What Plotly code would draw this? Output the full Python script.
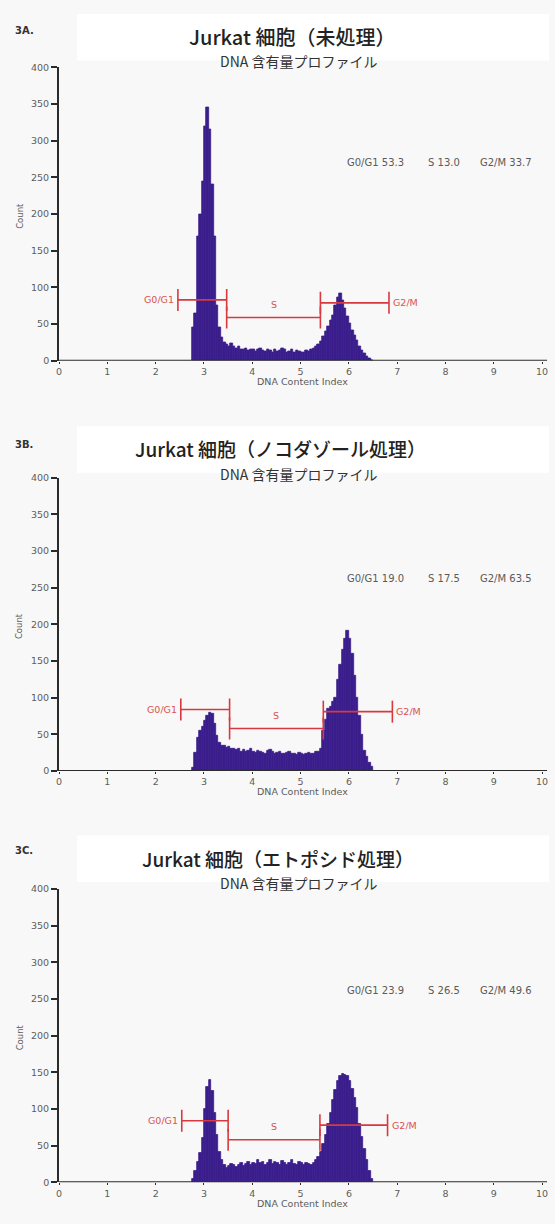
import plotly.graph_objects as go

W, H = 555, 1224

# ---------------- data ----------------
bin_start = 2.775      # centre of first histogram channel (DNA content index)
bin_width = 0.05

counts_a = [45, 65, 170, 200, 245, 320, 345, 315, 240, 170,
            75, 45, 32, 25, 22, 20, 23, 19, 17, 19,
            16, 15, 17, 14, 16, 15, 13, 15, 17, 14,
            13, 16, 14, 12, 15, 13, 14, 17, 15, 12,
            13, 15, 12, 14, 13, 11, 12, 14, 13, 15,
            17, 20, 22, 27, 33, 40, 47, 55, 62, 75,
            86, 92, 82, 72, 60, 51, 42, 34, 28, 20,
            14, 10, 6, 3, 1]

counts_b = [5, 25, 45, 55, 60, 68, 75, 80, 78, 65,
            48, 38, 34, 35, 32, 33, 30, 31, 29, 30,
            27, 29, 26, 28, 30, 26, 25, 28, 27, 25,
            24, 28, 29, 26, 24, 25, 27, 24, 23, 25,
            26, 23, 24, 22, 25, 23, 22, 24, 25, 23,
            24, 26, 27, 30, 55, 70, 85, 88, 95, 100,
            125, 145, 165, 180, 192, 180, 160, 130, 100, 75,
            50, 28, 20, 12, 6]

counts_c = [5, 15, 28, 40, 60, 100, 130, 140, 125, 95,
            65, 42, 30, 24, 20, 22, 25, 23, 21, 24,
            26, 22, 25, 28, 24, 27, 25, 30, 26, 28,
            24, 27, 31, 25, 28, 26, 24, 29, 26, 23,
            27, 31, 25, 24, 28, 26, 23, 27, 25, 24,
            27, 30, 35, 42, 52, 65, 80, 95, 112, 126,
            138, 145, 148, 147, 145, 138, 127, 115, 102, 80,
            62, 45, 30, 15, 5]

panel_labels = ["3A.", "3B.", "3C."]
titles = ["Jurkat 細胞（未処理）",
          "Jurkat 細胞（ノコダゾール処理）",
          "Jurkat 細胞（エトポシド処理）"]
subtitle = "DNA 含有量プロファイル"

stats_a = ["G0/G1 53.3", "S 13.0", "G2/M 33.7"]
stats_b = ["G0/G1 19.0", "S 17.5", "G2/M 63.5"]
stats_c = ["G0/G1 23.9", "S 26.5", "G2/M 49.6"]

gate_names = ["G0/G1", "S", "G2/M"]
# (start, end, level) per gate
gates_a = [(2.46, 3.47, 83), (3.47, 5.41, 59), (5.41, 6.83, 79)]
gates_b = [(2.52, 3.53, 84), (3.53, 5.47, 58), (5.47, 6.90, 81)]
gates_c = [(2.54, 3.50, 84), (3.50, 5.40, 58), (5.40, 6.80, 78)]

x_ticks = [0, 1, 2, 3, 4, 5, 6, 7, 8, 9, 10]
y_ticks = [0, 50, 100, 150, 200, 250, 300, 350, 400]
x_title = "DNA Content Index"
y_title = "Count"

# ---------------- layout helpers ----------------
def fx(p):
    return p / W

def fy(p):
    return 1 - p / H

plot_left, plot_right = 57, 548
plot_tops = [62, 476, 891]
plot_h = 296
title_ys = [31, 447, 860]
title_xs = [294, 282, 280]
title_sizes = [20, 19, 19]
sub_ys = [56, 472, 885]
label_ys = [25, 442, 852]

hist_color = "#3a1d8c"
gate_color = "#d8393f"
gate_text = "#d9534f"
axis_color = "#2b2b2b"
tick_text = "#5c5c5c"

fig = go.Figure()
shapes = []
annotations = []

all_counts = [counts_a, counts_b, counts_c]
all_stats = [stats_a, stats_b, stats_c]
all_gates = [gates_a, gates_b, gates_c]
stat_x = [348, 430, 483]
stat_level = [270, 262, 262]

for i in range(3):
    n = "" if i == 0 else str(i + 1)
    xa, ya = "x" + n, "y" + n
    top = plot_tops[i]
    bot = top + plot_h

    fig.add_trace(go.Bar(
        y=all_counts[i], x0=bin_start, dx=bin_width, width=bin_width,
        marker=dict(color=hist_color, line=dict(width=0.8, color=hist_color)),
        xaxis=xa, yaxis=ya, showlegend=False, hoverinfo="skip"))

    axis_font = dict(family="DejaVu Sans, Verdana, sans-serif", size=9.5, color=tick_text)
    fig.layout["xaxis" + n] = dict(
        domain=[fx(plot_left), fx(plot_right)], anchor=ya, range=[0, 10],
        tickmode="array", tickvals=x_ticks, ticks="outside", ticklen=2,
        tickcolor=axis_color, tickfont=axis_font, showgrid=False, zeroline=False,
        showline=False, fixedrange=True)
    fig.layout["yaxis" + n] = dict(
        domain=[fy(bot), fy(top)], anchor=xa, range=[0, 400],
        tickmode="array", tickvals=y_ticks, ticks="outside", ticklen=6, tickwidth=1.5,
        tickcolor=axis_color, tickfont=axis_font, showgrid=False, zeroline=False,
        showline=True, linecolor=axis_color, linewidth=2, fixedrange=True)

    # x axis baseline (extends a little past 10)
    shapes.append(dict(type="line", xref="paper", yref=ya, x0=fx(plot_left), x1=fx(553),
                       y0=0, y1=0, line=dict(color=axis_color, width=2.2)))

    # white title box
    shapes.append(dict(type="rect", xref="paper", yref="paper", layer="below",
                       x0=fx(75), x1=1, y0=fy(title_ys[i] + 24), y1=fy(title_ys[i] - 23),
                       fillcolor="white", line=dict(width=0)))

    annotations.append(dict(text="<b>" + panel_labels[i] + "</b>", xref="paper", yref="paper",
                            x=fx(10), y=fy(label_ys[i]), xanchor="left", yanchor="middle",
                            showarrow=False, font=dict(family="DejaVu Sans", size=10, color="#333")))
    annotations.append(dict(text=titles[i], xref="paper", yref="paper",
                            x=fx(title_xs[i]), y=fy(title_ys[i]), xanchor="center", yanchor="middle",
                            showarrow=False,
                            font=dict(family="Noto Sans CJK JP", size=title_sizes[i],
                                      color="#222", weight=500)))
    annotations.append(dict(text=subtitle, xref="paper", yref="paper",
                            x=fx(300), y=fy(sub_ys[i]), xanchor="center", yanchor="middle",
                            showarrow=False,
                            font=dict(family="Noto Sans CJK JP", size=14, color="#333")))
    annotations.append(dict(text=x_title, xref="paper", yref="paper",
                            x=fx(304), y=fy(bot + 21), xanchor="center", yanchor="middle",
                            showarrow=False, font=dict(family="DejaVu Sans", size=9.5, color=tick_text)))
    annotations.append(dict(text=y_title, xref="paper", yref="paper", textangle=-90,
                            x=fx(17), y=fy(top + 150), xanchor="center", yanchor="middle",
                            showarrow=False, font=dict(family="DejaVu Sans", size=8.5, color=tick_text)))

    # stats text
    for j, s in enumerate(all_stats[i]):
        annotations.append(dict(text=s, xref="paper", yref=ya, x=fx(stat_x[j]), y=stat_level[i],
                                xanchor="left", yanchor="middle", showarrow=False,
                                font=dict(family="DejaVu Sans", size=10, color="#5a5a5a")))

    # gates
    for j, (g0, g1, lvl) in enumerate(all_gates[i]):
        shapes.append(dict(type="line", xref=xa, yref=ya, x0=g0, x1=g1, y0=lvl, y1=lvl,
                           line=dict(color=gate_color, width=1.6)))
        for gx in (g0, g1):
            shapes.append(dict(type="line", xref=xa, yref=ya, x0=gx, x1=gx, y0=lvl - 15, y1=lvl + 15,
                               line=dict(color=gate_color, width=1.6)))
        gfont = dict(family="DejaVu Sans", size=9.5, color=gate_text)
        if j == 0:
            annotations.append(dict(text=gate_names[j], xref=xa, yref=ya, x=g0, y=lvl,
                                    xanchor="right", yanchor="middle", xshift=-2,
                                    showarrow=False, font=gfont))
        elif j == 1:
            annotations.append(dict(text=gate_names[j], xref=xa, yref=ya, x=(g0 + g1) / 2, y=lvl,
                                    xanchor="center", yanchor="bottom", yshift=6,
                                    showarrow=False, font=gfont))
        else:
            annotations.append(dict(text=gate_names[j], xref=xa, yref=ya, x=g1, y=lvl,
                                    xanchor="left", yanchor="middle", xshift=2,
                                    showarrow=False, font=gfont))

fig.update_layout(
    width=W, height=H, margin=dict(l=0, r=0, t=0, b=0),
    paper_bgcolor="#f8f8f8", plot_bgcolor="rgba(0,0,0,0)",
    bargap=0, showlegend=False,
    shapes=shapes, annotations=annotations,
)

fig.write_html("out.html", config={"displayModeBar": False},
               post_script="document.body.style.margin='0px';document.body.style.overflow='hidden';")
